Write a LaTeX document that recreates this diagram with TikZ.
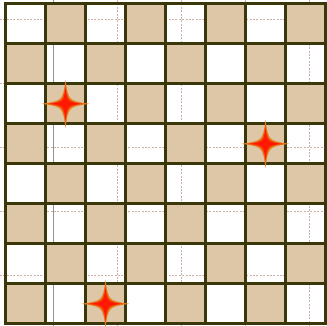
\documentclass[tikz,border=0pt]{standalone}
\usepackage{tikz}
\usetikzlibrary{calc}
\definecolor{boardtan}{RGB}{221,199,167}
\definecolor{boardline}{RGB}{58,56,10}
\definecolor{helpdash}{RGB}{205,175,165}
\definecolor{starouter}{RGB}{228,132,40}
\definecolor{starmid}{RGB}{240,90,10}
\definecolor{starinner}{RGB}{255,25,0}

\begin{document}
\begin{tikzpicture}[
  sq/.style={fill=boardtan},
  boardframe/.style={draw=boardline, line width=2.3pt, line cap=rect},
  helpgrid/.style={helpdash, line width=0.7pt, dash pattern=on 1.4pt off 1pt},
  axisline/.style={gray!85, line width=1pt},
  fourstar/.pic={
    \foreach \s/\c in {1/starouter,0.84/starmid,0.66/starinner}
      \fill[\c, scale=\s] (0,0.6) .. controls (0.075,0.075) .. (0.6,0) .. controls (0.075,-0.075) .. (0,-0.6) .. controls (-0.075,-0.075) .. (-0.6,0) .. controls (-0.075,0.075) .. cycle;
  }
]
\useasboundingbox (-0.1375,-0.055) rectangle (8.0375,8.095);

\foreach \x in {2.8,4.4,6.0,7.6}
  \draw[helpgrid] (\x,-0.055) -- (\x,8.095);
\foreach \y in {1.2,2.8,4.4,6.0,7.6}
  \draw[helpgrid] (-0.1375,\y) -- (8.0375,\y);
\draw[axisline] (1.2,-0.055) -- (1.2,8.095);

\foreach \c in {0,...,7}
  \foreach \r in {0,...,7}{
    \pgfmathparse{int(mod(\c+\r,2))}
    \ifnum\pgfmathresult=0 \fill[sq] (\c,\r) rectangle ++(1,1); \fi
  }

\draw[boardframe] (0,0) grid (8,8);
\draw[boardframe] (0,0) rectangle (8,8);

\pic (s1) at (1.5,5.5) {fourstar};
\pic (s2) at (6.5,4.5) {fourstar};
\pic (s3) at (2.5,0.5) {fourstar};
\end{tikzpicture}
\end{document}
